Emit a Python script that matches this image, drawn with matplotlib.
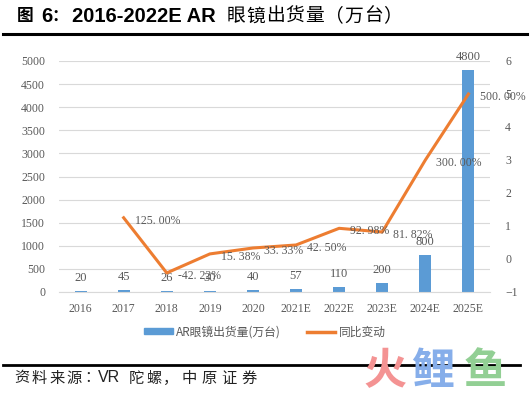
import numpy as np
import matplotlib
matplotlib.use("Agg")
from matplotlib import pyplot as plt
from matplotlib.lines import Line2D
from matplotlib.patches import Patch

years = ["2016", "2017", "2018", "2019", "2020", "2021E", "2022E", "2023E", "2024E", "2025E"]
shipments = [20, 45, 26, 30, 40, 57, 110, 200, 800, 4800]
growth = [np.nan, 1.25, -0.4222, 0.1538, 0.3333, 0.425, 0.9298, 0.8182, 3.0, 5.0]
growth_labels = ["", "125.00%", "-42.22%", "15.38%", "33.33%", "42.50%",
                 "92.98%", "81.82%", "300.00%", "500.00%"]

serif = ["Liberation Serif", "Noto Sans CJK SC"]
cjk = ["Noto Sans CJK SC", "DejaVu Sans"]
grey = "#595959"
blue = "#5B9BD5"
orange = "#ED7D31"

fig = plt.figure(figsize=(5.31, 3.93), dpi=100)
W, H = 531, 393


def spaced(s, x0, y, adv, **kw):
    # place characters one by one with a fixed advance (px)
    for i, ch in enumerate(s):
        fig.text((x0 + i * adv) / W, 1 - y / H, ch, va="center", ha="center", **kw)


# title
ty = 16
fig.text(17 / W, 1 - ty / H, "图", family=cjk, fontsize=12, weight="bold", va="center")
fig.text(41 / W, 1 - ty / H, "6", family=["Liberation Sans"], fontsize=14.5,
         weight="bold", va="center")
fig.text(51 / W, 1 - ty / H, "：", family=cjk, fontsize=12, weight="bold", va="center")
fig.text(72 / W, 1 - ty / H, "2016-2022E AR", family=["Liberation Sans"], fontsize=14.5,
         weight="bold", va="center")
spaced("眼镜出货量（万台）", 236, ty, 19.6, family=cjk, fontsize=13.5)
fig.add_artist(Line2D([3 / W, 527 / W], [1 - 34 / H] * 2, color="black", lw=2.2))

# watermark
for ch, xc, c in [("火", 385, "#F49393"), ("鲤", 433, "#86AEEA"), ("鱼", 485, "#92CF94")]:
    fig.text(xc / W, 1 - 371 / H, ch, family=cjk, fontsize=31, weight="black",
             color=c, ha="center", va="center")
fig.add_artist(Line2D([3 / W, 520 / W], [1 - 365 / H] * 2, color="black", lw=2))

# source
sy = 378
spaced("资料来源：", 22, sy, 17.5, family=cjk, fontsize=11, color="#222222")
fig.text(98 / W, 1 - sy / H, "VR", family=["Liberation Sans"], fontsize=11.5,
         va="center", color="#222222")
spaced("陀螺，", 136, sy, 17.5, family=cjk, fontsize=11, color="#222222")
spaced("中原证券", 189, sy, 20, family=cjk, fontsize=11, color="#222222")

ax = fig.add_axes([59 / W, 1 - 292 / H, (490 - 59) / W, (292 - 61) / H])
x = np.arange(len(years))
ax.bar(x, shipments, width=0.28, color=blue, zorder=2)
ax.set_xlim(-0.5, len(years) - 0.5)
ax.set_ylim(0, 5000)
ax.set_yticks(np.arange(0, 5001, 500))
ax.set_xticks(x)
ax.set_xticklabels(years)
ax.grid(axis="y", color="#D9D9D9", lw=0.8, zorder=0)
for s in ["top", "right", "left"]:
    ax.spines[s].set_visible(False)
ax.spines["bottom"].set_color("#D9D9D9")
ax.tick_params(length=0, labelcolor=grey, labelsize=8.5)
ax.tick_params(axis="y", pad=10)
ax.tick_params(axis="x", pad=8)
for lab in ax.get_xticklabels() + ax.get_yticklabels():
    lab.set_family(serif)
for xi, v in zip(x, shipments):
    ax.annotate(str(v), (xi, v), xytext=(0, 5), textcoords="offset points",
                ha="center", va="bottom", fontsize=9, color=grey, family=serif)

ax2 = ax.twinx()
ax2.plot(x, growth, color=orange, lw=2.2, zorder=3)
ax2.set_ylim(-1, 6)
ax2.set_yticks(np.arange(-1, 7, 1))
for s in ["top", "right", "left", "bottom"]:
    ax2.spines[s].set_visible(False)
ax2.tick_params(length=0, labelcolor=grey, labelsize=8.5, pad=11)
for lab in ax2.get_yticklabels():
    lab.set_family(serif)
for xi, g, t in zip(x, growth, growth_labels):
    if t:
        ax2.annotate(t.replace(".", ". "), (xi, g), xytext=(8, -2), textcoords="offset points",
                     ha="left", va="center", fontsize=8.5, color=grey, family=serif)

handles = [Patch(color=blue), Line2D([], [], color=orange, lw=2.5)]
fig.legend(handles, ["AR眼镜出货量(万台)", "同比变动"], loc="center",
           bbox_to_anchor=(265 / W, 1 - 332 / H), ncol=2, frameon=False,
           prop={"family": cjk, "size": 8.5}, handlelength=2.4, columnspacing=2.2,
           handletextpad=0.3, labelcolor=grey, handleheight=0.45)

fig.savefig("out.png", dpi=100)
